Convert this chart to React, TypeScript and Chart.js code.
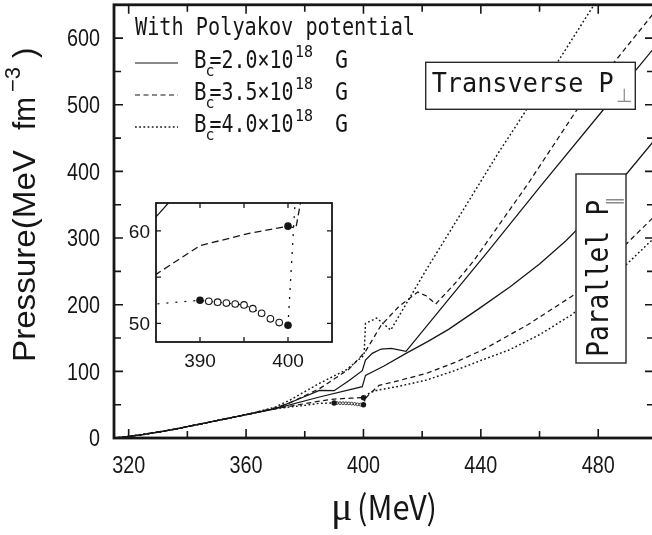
import React, { useEffect, useRef } from 'react';
import { Chart, registerables } from 'chart.js';

Chart.register(...registerables);

// ---------------- data ----------------
// Transverse pressure, Bc = 2.0e18 G (solid)
const perpB20Mu = [315, 318, 320, 325, 330, 335, 340, 345, 350, 355, 360, 365, 370, 378, 385, 390, 395, 399.6, 400.7, 403, 406, 409.5, 414.5, 429, 443, 460, 482, 499];
const perpB20P = [0, 1.2, 2.3, 5.3, 8.8, 12.7, 17, 21.5, 26, 30.5, 35, 39.5, 44, 58.5, 71.5, 71, 86, 101, 117, 127, 133.5, 134.5, 130, 208, 283, 376, 494, 585];
// Parallel pressure, Bc = 2.0e18 G (solid)
const parB20Mu = [315, 318, 320, 325, 330, 335, 340, 345, 350, 355, 360, 365, 370, 385, 399.6, 400.7, 407, 414.5, 422, 429, 439, 450, 460, 469, 480, 489.4, 499];
const parB20P = [0, 1.2, 2.3, 5.3, 8.8, 12.7, 17, 21.5, 26, 30.5, 35, 39.5, 44, 61.5, 77, 94, 108, 127, 145, 163, 193, 227, 261, 296, 345, 395, 446];
// Transverse pressure, Bc = 3.5e18 G (dashed)
const perpB35Mu = [315, 318, 320, 325, 330, 335, 340, 345, 350, 355, 360, 365, 370, 375, 385, 395, 400.7, 406, 412, 418.5, 421.5, 424.6, 431, 437.6, 456, 472.5, 485.3, 499];
const perpB35P = [0, 1.2, 2.3, 5.3, 8.8, 12.7, 17, 21.5, 26, 30.5, 35, 40.2, 45.5, 53, 74, 103, 130, 169, 197, 219, 213, 201, 231, 266, 381, 491, 563, 638];
// Parallel pressure, Bc = 3.5e18 G (dashed)
const parB35Mu = [315, 318, 320, 325, 330, 335, 340, 345, 350, 355, 360, 365, 370, 380, 385, 390, 395.7, 400, 400.9, 401.6, 405.3, 412, 421.5, 431, 441, 456, 471.5, 481, 489.3, 499];
const parB35P = [0, 1.2, 2.3, 5.3, 8.8, 12.7, 17, 21.5, 26, 30.5, 35, 39.5, 44, 51.5, 55.3, 58.4, 59.75, 60.5, 60.3, 64, 79, 86, 97, 113, 133, 170, 214, 253, 290, 332];
// Transverse pressure, Bc = 4.0e18 G (dotted)
const perpB40Mu = [315, 318, 320, 325, 330, 335, 340, 345, 350, 355, 360, 365, 370, 375, 385, 394, 400.2, 400.7, 404.5, 409.3, 421.2, 446, 466, 480];
const perpB40P = [0, 1.2, 2.3, 5.3, 8.8, 12.7, 17, 21.5, 26, 30.5, 35, 40.5, 46.5, 57, 82, 102, 124, 172, 180, 162, 251, 428, 563, 660];
// Parallel pressure, Bc = 4.0e18 G (dotted)
const parB40Mu = [315, 318, 320, 325, 330, 335, 340, 345, 350, 355, 360, 365, 370, 380, 385, 390, 391, 392, 393, 394, 395, 396, 397, 398, 399, 400, 400.8, 401.5, 403, 405, 412, 421.5, 431, 440.4, 449.6, 460, 471, 480, 489.3, 499];
const parB40P = [0, 1.2, 2.3, 5.3, 8.8, 12.7, 17, 21.5, 26, 30.5, 35, 39.5, 44, 49, 52.1, 52.5, 52.4, 52.3, 52.2, 52.1, 52.0, 51.6, 51.1, 50.5, 50.1, 49.8, 63, 66, 69.3, 72, 77.5, 87, 101, 117, 132, 155, 185, 218, 259, 300];

// marker points
const filledDotMu = [390, 400, 400];
const filledDotP = [52.5, 49.8, 60.5];
const openCircleMu = [391, 392, 393, 394, 395, 396, 397, 398, 399];
const openCircleP = [52.4, 52.3, 52.2, 52.1, 52.0, 51.6, 51.1, 50.5, 50.1];

// ticks
const xTickLabels = [320, 360, 400, 440, 480];
const xMinorTicks = [340, 380, 420, 460];
const yTickLabels = [0, 100, 200, 300, 400, 500, 600];
const yMinorTicks = [50, 150, 250, 350, 450, 550];
const insetXTickLabels = [390, 400];
const insetXMinorTicks = [395];
const insetYTickLabels = [50, 60];
const insetYMinorTicks = [55];

// legend
const bcValues = ['2.0', '3.5', '4.0'];
const lineKinds = ['solid', 'dashed', 'dotted'];

// ---------------------------------------------------------------
const zip = (xs: number[], ys: number[]) => xs.map((x, i) => ({ x, y: ys[i] }));

const series = [
  { mu: perpB20Mu, p: perpB20P, kind: 'solid' },
  { mu: parB20Mu, p: parB20P, kind: 'solid' },
  { mu: perpB35Mu, p: perpB35P, kind: 'dashed' },
  { mu: parB35Mu, p: parB35P, kind: 'dashed' },
  { mu: perpB40Mu, p: perpB40P, kind: 'dotted' },
  { mu: parB40Mu, p: parB40P, kind: 'dotted' },
];

const INK = '#161616';

function buildDatasets(inset: boolean) {
  const dashes: Record<string, number[]> = inset
    ? { solid: [], dashed: [7, 4], dotted: [2, 7] }
    : { solid: [], dashed: [5, 3.5], dotted: [1.8, 2.4] };
  const lines = series.map((s) => ({
    data: zip(s.mu, s.p),
    borderColor: INK,
    borderWidth: inset ? 1.3 : (s.kind === 'dotted' ? 1.45 : 1.25),
    borderDash: dashes[s.kind],
    pointRadius: 0,
    fill: false,
    tension: 0,
    showLine: true,
  }));
  const filled = {
    data: zip(filledDotMu, filledDotP),
    showLine: false,
    pointRadius: inset ? 3.8 : 2.7,
    pointBackgroundColor: INK,
    pointBorderColor: INK,
    pointBorderWidth: 0,
    borderColor: INK,
  };
  const open = {
    data: zip(openCircleMu, openCircleP),
    showLine: false,
    pointRadius: inset ? 3.3 : 1.4,
    pointBackgroundColor: '#ffffff',
    pointBorderColor: INK,
    pointBorderWidth: inset ? 1.1 : 0.8,
    borderColor: INK,
  };
  // first datasets are drawn on top
  return [filled, open, ...lines];
}

type FrameCfg = {
  xMajor: number[]; xMinor: number[]; yMajor: number[]; yMinor: number[];
  major: number; minor: number; frameWidth: number; tickWidth: number;
  font: string; condense: number; xLabelBaseline: number; yLabelRight: number; yLabelShift: number;
};

function framePlugin(cfg: FrameCfg) {
  return {
    id: 'axesFrame',
    afterDatasetsDraw(chart: any) {
      const { ctx, chartArea: a } = chart;
      const xs = chart.scales.x;
      const ys = chart.scales.y;
      ctx.save();
      ctx.strokeStyle = INK;
      ctx.lineWidth = cfg.tickWidth;
      ctx.setLineDash([]);
      ctx.beginPath();
      const xt: [number, number][] = [
        ...cfg.xMajor.map((v) => [v, cfg.major] as [number, number]),
        ...cfg.xMinor.map((v) => [v, cfg.minor] as [number, number]),
      ];
      for (const [v, len] of xt) {
        const px = xs.getPixelForValue(v);
        ctx.moveTo(px, a.bottom);
        ctx.lineTo(px, a.bottom - len);
        ctx.moveTo(px, a.top);
        ctx.lineTo(px, a.top + len);
      }
      const yt: [number, number][] = [
        ...cfg.yMajor.map((v) => [v, cfg.major] as [number, number]),
        ...cfg.yMinor.map((v) => [v, cfg.minor] as [number, number]),
      ];
      for (const [v, len] of yt) {
        const py = ys.getPixelForValue(v);
        ctx.moveTo(a.left, py);
        ctx.lineTo(a.left + len, py);
        ctx.moveTo(a.right, py);
        ctx.lineTo(a.right - len, py);
      }
      ctx.stroke();
      ctx.lineWidth = cfg.frameWidth;
      ctx.strokeRect(a.left, a.top, a.right - a.left, a.bottom - a.top);

      // tick labels, positioned by the scales
      ctx.fillStyle = INK;
      ctx.font = cfg.font;
      ctx.textBaseline = 'alphabetic';
      ctx.textAlign = 'center';
      for (const v of cfg.xMajor) {
        ctx.save();
        ctx.translate(xs.getPixelForValue(v), a.bottom + cfg.xLabelBaseline);
        ctx.scale(cfg.condense, 1);
        ctx.fillText(String(v), 0, 0);
        ctx.restore();
      }
      ctx.textAlign = 'right';
      for (const v of cfg.yMajor) {
        ctx.save();
        ctx.translate(a.left - cfg.yLabelRight, ys.getPixelForValue(v) + cfg.yLabelShift);
        ctx.scale(cfg.condense, 1);
        ctx.fillText(String(v), 0, 0);
        ctx.restore();
      }
      ctx.restore();
    },
  };
}

function scaleOpts(min: number, max: number, size: { w?: number; h?: number }) {
  return {
    type: 'linear',
    min,
    max,
    afterFit: (s: any) => {
      if (size.w !== undefined) s.width = size.w;
      if (size.h !== undefined) s.height = size.h;
      s.paddingTop = 0;
      s.paddingBottom = 0;
      s.paddingLeft = 0;
      s.paddingRight = 0;
    },
    grid: { display: false, drawTicks: false },
    border: { display: false },
    ticks: { display: false },
  };
}

export default function App() {
  const mainRef = useRef<HTMLCanvasElement>(null);
  const insetRef = useRef<HTMLCanvasElement>(null);

  useEffect(() => {
    const main = new Chart(mainRef.current as HTMLCanvasElement, {
      type: 'line',
      data: { datasets: buildDatasets(false) as any },
      options: {
        responsive: false,
        animation: false,
        devicePixelRatio: 1,
        layout: { padding: { top: 2, right: 8, bottom: 0, left: 0 } },
        plugins: { legend: { display: false }, tooltip: { enabled: false } },
        scales: {
          x: scaleOpts(315, 499, { h: 97 }),
          y: scaleOpts(0, 650, { w: 114 }),
        },
      } as any,
      plugins: [framePlugin({
        xMajor: xTickLabels, xMinor: xMinorTicks, yMajor: yTickLabels, yMinor: yMinorTicks,
        major: 9, minor: 7, frameWidth: 2.8, tickWidth: 1.6,
        font: "23px 'Liberation Sans', Arial, sans-serif", condense: 0.86,
        xLabelBaseline: 35, yLabelRight: 14, yLabelShift: 8.3,
      })],
    });

    const inset = new Chart(insetRef.current as HTMLCanvasElement, {
      type: 'line',
      data: { datasets: buildDatasets(true) as any },
      options: {
        responsive: false,
        animation: false,
        devicePixelRatio: 1,
        layout: { padding: { top: 7, right: 6, bottom: 0, left: 0 } },
        plugins: { legend: { display: false }, tooltip: { enabled: false } },
        scales: {
          x: scaleOpts(385, 405, { h: 44 }),
          y: scaleOpts(48, 63, { w: 50 }),
        },
      } as any,
      plugins: [framePlugin({
        xMajor: insetXTickLabels, xMinor: insetXMinorTicks, yMajor: insetYTickLabels, yMinor: insetYMinorTicks,
        major: 5, minor: 5, frameWidth: 1.8, tickWidth: 1.3,
        font: "19px 'Liberation Sans', Arial, sans-serif", condense: 1,
        xLabelBaseline: 25, yLabelRight: 6, yLabelShift: 6.8,
      })],
    });

    return () => {
      main.destroy();
      inset.destroy();
    };
  }, []);

  const mono = "'DejaVu Sans Mono', 'Liberation Mono', monospace";
  const sans = "'Liberation Sans', Arial, sans-serif";
  const dashFor: Record<string, string | undefined> = { solid: undefined, dashed: '5 3.5', dotted: '1.8 2.4' };

  return (
    <div style={{ position: 'fixed', left: 0, top: 0, width: 652, height: 535, overflow: 'hidden', background: '#ffffff' }}>
      <canvas ref={mainRef} width={662} height={535} style={{ position: 'absolute', left: 0, top: 0, width: 662, height: 535 }} />
      <canvas ref={insetRef} width={232} height={190} style={{ position: 'absolute', left: 106, top: 196, width: 232, height: 190 }} />
      <svg width={652} height={535} style={{ position: 'absolute', left: 0, top: 0, pointerEvents: 'none' }}>
        {/* legend */}
        <text x={135} y={35} fontFamily={mono} fontSize={24} fill={INK} textLength={280} lengthAdjust="spacingAndGlyphs">With Polyakov potential</text>
        {bcValues.map((v, i) => {
          const base = 68 + 32 * i;
          return (
            <g key={v} fill={INK}>
              <line x1={135} x2={178} y1={base - 5} y2={base - 5} stroke={INK} strokeWidth={lineKinds[i] === 'dotted' ? 1.4 : 1.2} strokeDasharray={dashFor[lineKinds[i]]} />
              <text x={194} y={base} fontFamily={mono} fontSize={24} textLength={12.5} lengthAdjust="spacingAndGlyphs">B</text>
              <text x={205.5} y={base + 8} fontFamily={mono} fontSize={15}>c</text>
              <text x={209.5} y={base} fontFamily={mono} fontSize={24} textLength={84} lengthAdjust="spacingAndGlyphs">{`=${v}×10`}</text>
              <text x={295} y={base - 11} fontFamily={mono} fontSize={16} textLength={18} lengthAdjust="spacingAndGlyphs">18</text>
              <text x={335} y={base} fontFamily={mono} fontSize={24} textLength={13} lengthAdjust="spacingAndGlyphs">G</text>
            </g>
          );
        })}

        {/* Transverse label box */}
        <rect x={425.7} y={62.3} width={209.6} height={47} fill="#ffffff" stroke="#2a2a2a" strokeWidth={1.4} />
        <text x={431.7} y={91.7} fontFamily={mono} fontSize={27} fill={INK} textLength={182} lengthAdjust="spacingAndGlyphs">Transverse P</text>
        <text x={616} y={102} fontFamily="'DejaVu Sans', sans-serif" fontSize={19} fill="#8a8a8a">⊥</text>

        {/* Parallel label box */}
        <rect x={576} y={174} width={50} height={189} fill="#ffffff" stroke="#2a2a2a" strokeWidth={1.4} />
        <text transform="translate(608.3,356.7) rotate(-90)" fontFamily={mono} fontSize={30} fill={INK} textLength={157} lengthAdjust="spacingAndGlyphs">Parallel P</text>
        <text transform="translate(620,206) rotate(-90)" fontFamily="'DejaVu Sans', sans-serif" fontSize={18} fill="#8a8a8a">∥</text>

        {/* y axis title */}
        <g fontFamily={sans} fill={INK}>
          <text transform="translate(35,362) rotate(-90)" fontSize={31} textLength={212} lengthAdjust="spacingAndGlyphs">Pressure(MeV</text>
          <text transform="translate(35,130) rotate(-90)" fontSize={31} textLength={33} lengthAdjust="spacingAndGlyphs">fm</text>
          <text transform="translate(20,92) rotate(-90)" fontSize={22}>−3</text>
          <text transform="translate(35,58) rotate(-90)" fontSize={31}>)</text>
        </g>

        {/* x axis title */}
        <text x={331} y={520} fontFamily="'Liberation Serif', serif" fontSize={40} fill={INK}>μ</text>
        <text x={357} y={520} fontFamily="'Noto Sans CJK SC', sans-serif" fontSize={34} fill={INK} textLength={80} lengthAdjust="spacingAndGlyphs">(MeV)</text>
      </svg>
    </div>
  );
}
